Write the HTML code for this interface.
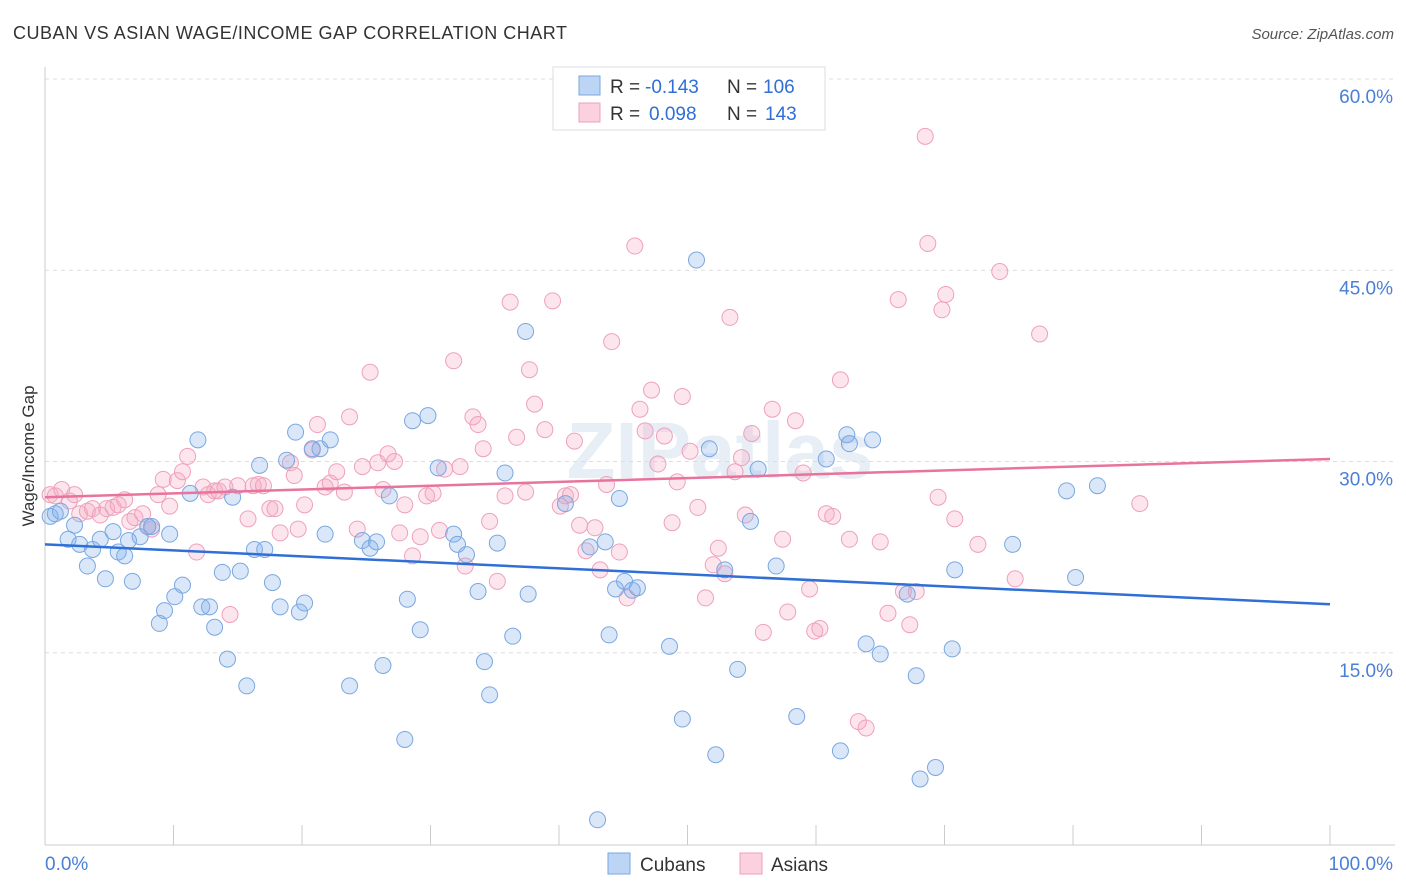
<!DOCTYPE html>
<html><head><meta charset="utf-8"><style>
body{margin:0;background:#fff;font-family:"Liberation Sans",sans-serif;}
svg{display:block}
</style></head><body>
<svg id="chart" width="1406" height="892">
<text x="13" y="39" font-size="18" fill="#333" textLength="554" lengthAdjust="spacing">CUBAN VS ASIAN WAGE/INCOME GAP CORRELATION CHART</text>
<text x="1394" y="39" font-size="15" fill="#555" font-style="italic" text-anchor="end">Source: ZipAtlas.com</text>
<text x="720" y="478" font-size="80" fill="#e8eef6" text-anchor="middle" font-weight="bold">ZIPatlas</text>
<g id="grid"></g>
<g id="marks"></g>
<text transform="translate(34,456) rotate(-90)" font-size="17" fill="#333" text-anchor="middle">Wage/Income Gap</text>
<g>
<rect x="553" y="67" width="272" height="63" fill="#fff" stroke="#ddd"/>
<rect x="579" y="76" width="21" height="19" fill="#bcd5f5" stroke="#7aa7e0"/>
<rect x="579" y="103" width="21" height="19" fill="#fbd0df" stroke="#eea1bb"/>
<text x="610" y="93" font-size="19" fill="#333">R =</text>
<text x="645" y="93" font-size="19" fill="#2f6fd6">-0.143</text>
<text x="727" y="93" font-size="19" fill="#333">N =</text>
<text x="763" y="93" font-size="19" fill="#2f6fd6">106</text>
<text x="610" y="120" font-size="19" fill="#333">R =</text>
<text x="649" y="120" font-size="19" fill="#2f6fd6">0.098</text>
<text x="727" y="120" font-size="19" fill="#333">N =</text>
<text x="765" y="120" font-size="19" fill="#2f6fd6">143</text>
</g>
<g>
<rect x="608" y="853" width="22" height="21" fill="#bcd5f5" stroke="#7aa7e0"/>
<text x="640" y="871" font-size="19" fill="#333">Cubans</text>
<rect x="740" y="853" width="22" height="21" fill="#fbd0df" stroke="#eea1bb"/>
<text x="771" y="871" font-size="19" fill="#333">Asians</text>
</g>
</svg>
<script>
const yTicks=[15,30,45,60];
const yTickLabels=["15.0%","30.0%","45.0%","60.0%"];
const xTicks=[0,10,20,30,40,50,60,70,80,90,100];
const cubanX=[0.4,0.8,1.2,2.3,1.8,2.7,3.3,3.7,4.3,4.7,5.3,5.7,6.2,6.5,6.8,7.4,8.0,8.3,8.9,9.3,9.7,10.1,10.7,11.3,11.9,12.2,12.8,13.2,13.8,14.2,14.6,15.2,15.7,16.3,16.7,17.1,17.7,18.3,18.8,19.5,19.8,20.2,20.8,21.4,21.8,22.2,23.7,24.7,25.3,25.8,26.3,26.8,28.0,28.2,28.6,29.2,29.8,30.6,31.8,32.1,32.8,33.7,34.2,34.6,35.2,35.8,36.4,37.4,37.6,40.5,42.4,43.0,43.6,43.9,44.4,44.7,45.1,45.7,46.1,48.6,49.6,50.7,51.7,52.2,52.9,53.9,54.9,55.5,56.9,58.5,60.8,61.9,62.4,62.6,63.9,64.4,65.0,67.1,67.8,68.1,69.3,70.6,70.8,75.3,79.5,80.2,81.9];
const cubanY=[27.0,27.2,27.4,26.3,25.2,24.8,23.1,24.4,25.2,22.1,25.8,24.2,23.9,25.1,21.9,25.4,26.2,26.2,18.6,19.6,25.6,20.7,21.6,28.8,33.0,19.9,19.9,18.3,22.6,15.8,28.5,22.7,13.7,24.4,31.0,24.4,21.8,19.9,31.4,33.6,19.5,20.2,32.3,32.3,25.6,33.0,13.7,25.1,24.5,25.0,15.3,28.6,9.5,20.5,34.5,18.1,34.9,30.8,25.6,24.8,24.0,21.1,15.6,13.0,24.9,30.4,17.6,41.5,20.9,28.0,24.6,3.2,25.0,17.7,21.3,28.4,21.9,21.2,21.4,16.8,11.1,47.1,32.3,8.3,22.8,15.0,26.6,30.7,23.1,11.3,31.5,8.6,33.4,32.7,17.0,33.0,16.2,20.9,14.5,6.4,7.3,16.6,22.8,24.8,29.0,22.2,29.4].map(v=>+(v-1.3).toFixed(1));
const asianX=[0.4,0.8,1.3,1.9,2.3,2.7,3.3,3.7,4.3,4.8,5.3,5.7,6.2,6.6,7.0,7.6,8.0,8.3,8.8,9.2,9.7,10.3,10.7,11.1,11.8,12.3,12.7,13.2,13.5,14.0,14.4,15.0,15.8,16.2,16.6,17.0,17.5,17.9,18.3,19.1,19.4,19.7,20.2,20.8,21.2,21.8,22.2,22.7,23.3,23.7,24.3,24.7,25.3,25.9,26.3,26.7,27.2,27.6,28.0,28.6,29.2,29.7,30.2,30.7,31.1,31.8,32.3,32.7,33.3,33.7,34.1,34.6,35.2,35.8,36.2,36.7,37.4,37.7,38.1,38.9,39.5,40.1,40.5,40.9,41.2,41.6,42.1,42.8,43.2,43.7,44.1,44.7,45.3,45.9,46.3,46.7,47.2,47.7,48.2,48.8,49.2,49.6,50.2,50.8,51.4,52.0,52.4,52.9,53.3,53.7,54.2,54.5,55.0,55.9,56.6,57.4,57.8,58.4,59.0,59.5,59.9,60.3,60.8,61.3,61.9,62.6,63.3,63.9,65.0,65.6,66.4,66.8,67.3,67.8,68.5,68.7,69.5,69.8,70.1,70.8,72.6,74.3,75.5,77.4,85.2];
const asianY=[28.7,28.6,29.1,28.2,28.7,27.2,27.4,27.6,27.1,27.6,27.7,27.9,28.3,26.6,26.9,27.2,26.2,26.0,28.7,29.9,27.8,29.8,30.5,31.7,24.2,29.3,28.7,29.0,29.0,29.3,19.3,29.4,26.8,29.4,29.5,29.4,27.6,27.6,25.7,31.2,30.2,26.0,27.9,32.2,34.2,29.3,29.6,30.5,28.9,34.8,26.0,30.9,38.3,31.2,29.1,31.9,31.3,25.7,27.9,23.9,25.4,28.6,28.8,25.9,30.7,39.2,30.9,23.1,34.8,34.2,32.3,26.6,21.9,28.6,43.8,33.2,28.9,38.5,35.8,33.8,43.9,27.8,28.6,28.7,32.9,26.3,24.3,26.1,22.8,29.5,40.7,24.2,20.6,48.2,35.4,33.7,36.9,31.1,33.3,26.5,29.7,36.4,32.1,27.7,20.6,23.2,24.5,22.5,42.6,30.5,31.6,27.1,33.5,17.9,35.4,25.2,19.5,34.5,30.4,21.3,18.0,18.2,27.2,27.0,37.7,25.2,10.9,10.4,25.0,19.4,44.0,21.1,18.5,21.1,56.8,48.4,28.5,43.2,44.4,26.8,24.8,46.2,22.1,41.3,28.0].map(v=>+(v-1.3).toFixed(1));
const cubanTrend=[23.5,18.8];
const asianTrend=[27.2,30.2];

const NS="http://www.w3.org/2000/svg";
const X0=45,X1=1330,Y0=844,YPX=12.75;
function xs(v){return X0+(X1-X0)*v/100;}
function ys(v){return Y0-v*YPX;}
function mk(tag,attrs,parent){const e=document.createElementNS(NS,tag);for(const k in attrs)e.setAttribute(k,attrs[k]);parent.appendChild(e);return e;}
const grid=document.getElementById('grid'),marks=document.getElementById('marks');
let e=mk('line',{x1:45,y1:67,x2:45,y2:845,stroke:'#ccc'},grid);


e=mk('line',{x1:45,y1:845,x2:1395,y2:845,stroke:'#ccc'},grid);


yTicks.forEach((t,i)=>{
 const g=mk('line',{x1:45,y1:ys(t),x2:1395,y2:ys(t),stroke:'#ddd','stroke-dasharray':'4,4'},grid);
 
 
 const l=mk('text',{x:1393,y:ys(t)+24,'font-size':19,fill:'#4a7fd6','text-anchor':'end'},grid);
 l.textContent=yTickLabels[i];
 
 
});
xTicks.forEach(t=>{
 const k=mk('line',{x1:xs(t),y1:825,x2:xs(t),y2:845,stroke:'#ccc'},grid);
 
 
});
e=mk('text',{x:45,y:870,'font-size':19,fill:'#4a7fd6'},grid);e.textContent='0.0%';


e=mk('text',{x:1393,y:870,'font-size':19,fill:'#4a7fd6','text-anchor':'end'},grid);e.textContent='100.0%';


asianX.forEach((x,i)=>{
 const c=mk('circle',{cx:xs(x),cy:ys(asianY[i]),r:8,fill:'rgba(244,170,196,0.3)',stroke:'#eea1bb','stroke-width':1},marks);
 
 
});
cubanX.forEach((x,i)=>{
 const c=mk('circle',{cx:xs(x),cy:ys(cubanY[i]),r:8,fill:'rgba(130,175,235,0.3)',stroke:'#7aa7e0','stroke-width':1},marks);
 
 
});
e=mk('line',{x1:xs(0),y1:ys(asianTrend[0]),x2:xs(100),y2:ys(asianTrend[1]),stroke:'#e8739c','stroke-width':2.5},marks);


e=mk('line',{x1:xs(0),y1:ys(cubanTrend[0]),x2:xs(100),y2:ys(cubanTrend[1]),stroke:'#2f6fd6','stroke-width':2.5},marks);


</script>
</body></html>
